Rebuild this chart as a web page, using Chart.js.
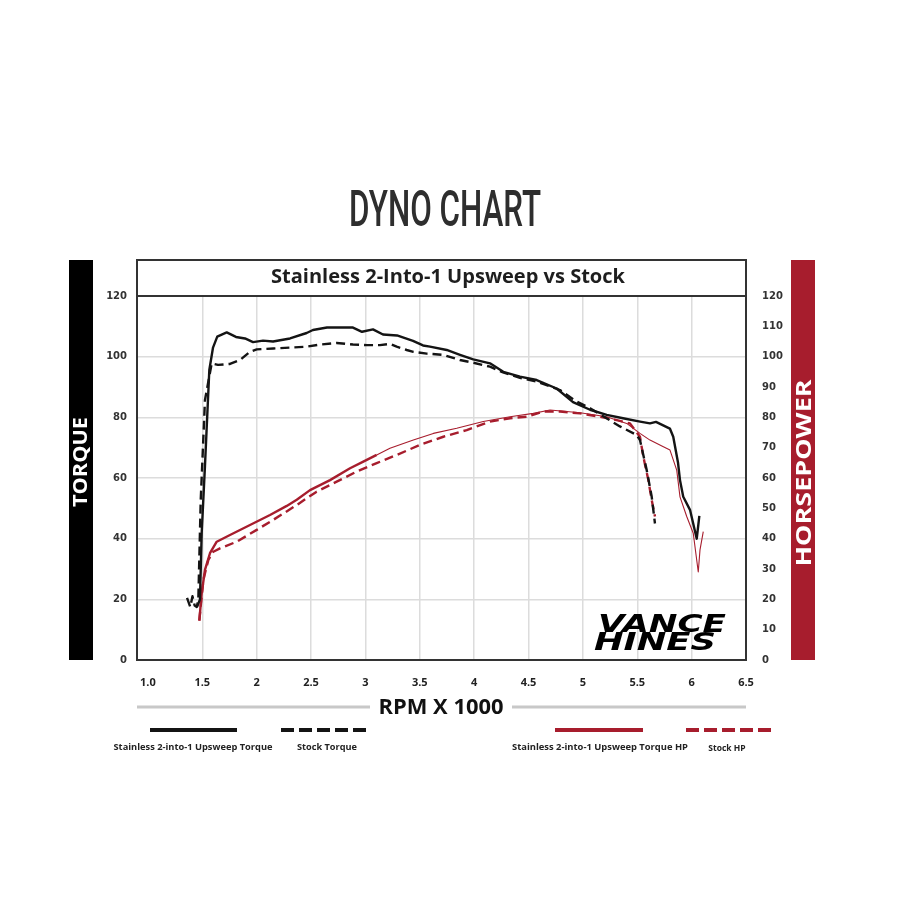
<!DOCTYPE html>
<html>
<head>
<meta charset="utf-8">
<title>Dyno Chart</title>
<script src="https://cdn.jsdelivr.net/npm/chart.js@4.4.1/dist/chart.umd.min.js"></script>
<style>
    html, body { margin: 0; padding: 0; background: #fff; }
    #wrap { position: relative; width: 900px; height: 900px; }
</style>
</head>
<body>
<div id="wrap"><canvas id="dynoChart" width="900" height="900"></canvas></div>
<script>
// rpm x 1000 ticks
const xTicks = [1.0, 1.5, 2, 2.5, 3, 3.5, 4, 4.5, 5, 5.5, 6, 6.5];
const xTickLabels = ['1.0', '1.5', '2', '2.5', '3', '3.5', '4', '4.5', '5', '5.5', '6', '6.5'];

// Stainless 2-into-1 torque
const upTqRpm = [1.452, 1.479, 1.495, 1.525, 1.565, 1.599, 1.638, 1.725, 1.81, 1.893, 1.967, 2.059, 2.151, 2.307, 2.46, 2.518,
    2.647, 2.886, 2.969, 3.07, 3.162, 3.291, 3.438, 3.53, 3.594, 3.748, 3.87, 3.992, 4.146, 4.268, 4.422, 4.575, 4.759,
    4.909, 5.066, 5.219, 5.369, 5.526, 5.617, 5.672, 5.8, 5.831, 5.875, 5.893, 5.923, 5.985, 6.047, 6.071];
const upTq = [17.5, 20, 42, 64, 95.6, 103, 106.6, 108, 106.5, 106, 104.8, 105.3, 105, 106, 107.8, 108.8,
    109.6, 109.6, 108.2, 109, 107.3, 107, 105.2, 103.7, 103.3, 102.2, 100.6, 99.1, 97.8, 95, 93.4, 92.3, 89.5,
    85, 82.5, 80.8, 79.7, 78.6, 78, 78.5, 76.3, 73.6, 65, 59.3, 53.8, 49.5, 40, 47.5];

// Stock torque
const stockTqRpm = [1.36, 1.39, 1.41, 1.43, 1.45, 1.464, 1.486, 1.525, 1.587, 1.645, 1.755, 1.847, 1.939, 2.001, 2.153,
    2.307, 2.46, 2.583, 2.736, 2.886, 3.015, 3.134, 3.226, 3.288, 3.38, 3.441, 3.564, 3.717, 3.87, 3.992, 4.146, 4.266,
    4.422, 4.575, 4.79, 4.928, 5.066, 5.203, 5.341, 5.495, 5.525, 5.587, 5.633, 5.663];
const stockTq = [20.5, 17.5, 21, 18, 17.5, 20, 52.7, 85.7, 97.8, 97.3, 97.6, 98.9, 101.6, 102.4, 102.7,
    103, 103.3, 104, 104.5, 104, 103.8, 103.8, 104.2, 103.3, 102.2, 101.6, 101, 100.6, 98.9, 98, 96.7, 94.8,
    93, 91.8, 89, 85.5, 83, 80, 77, 74.2, 72.5, 62.6, 53.8, 45];

// Stainless 2-into-1 HP
const upHpRpm = [1.473, 1.495, 1.525, 1.571, 1.633, 1.755, 1.939, 2.123, 2.277, 2.369, 2.491, 2.675, 2.859, 2.981, 3.104,
    3.226, 3.441, 3.625, 3.84, 4.084, 4.33, 4.544, 4.698, 4.974, 5.219, 5.403, 5.525, 5.617, 5.74, 5.801, 5.863,
    5.893, 5.955, 6.015, 6.061, 6.077, 6.107];
const upHp = [13, 22, 29.7, 35.2, 39, 41.2, 44.5, 47.8, 50.8, 52.8, 56, 59.3, 63.2, 65.4, 67.6,
    69.8, 72.5, 74.7, 76.4, 78.6, 80.2, 81.3, 82.4, 81.5, 80.2, 78, 74.7, 72.5, 70.3, 69.2, 62.6,
    53.8, 47.3, 41.8, 29, 36.3, 42.3];

// Stock HP
const stockHpRpm = [1.473, 1.51, 1.556, 1.602, 1.663, 1.817, 2.001, 2.153, 2.369, 2.552, 2.736, 2.92, 3.104, 3.288,
    3.502, 3.717, 3.932, 4.146, 4.33, 4.484, 4.636, 4.79, 4.974, 5.158, 5.311, 5.433, 5.525, 5.556, 5.602, 5.633, 5.663];
const stockHp = [13, 26.4, 33, 35.7, 36.8, 39, 42.9, 46.2, 51.1, 55.5, 58.8, 62.1, 64.9, 67.6,
    70.9, 73.6, 75.8, 78.6, 79.7, 80.2, 81.9, 81.9, 81.3, 80.2, 79.1, 78, 73.6, 67, 59.3, 52.7, 47.3];

const seriesNames = ['Stainless 2-into-1 Upsweep Torque', 'Stock Torque', 'Stainless 2-into-1 Upsweep Torque HP', 'Stock HP'];

const BLACK = '#141414';
const RED = '#a71d2d';
const GRID = '#dcdcdc';

function toPoints(xs, ys) {
    return xs.map((x, i) => ({ x: x, y: ys[i] }));
}

// draw text centred on (x, y), stretched to a given width (or natural width if none)
function fitText(ctx, text, x, y, w, font, color, rot) {
    ctx.save();
    ctx.font = font;
    ctx.fillStyle = color;
    ctx.textAlign = 'center';
    ctx.textBaseline = 'alphabetic';
    const m = ctx.measureText(text);
    const off = (m.actualBoundingBoxAscent - m.actualBoundingBoxDescent) / 2;
    ctx.translate(x, y);
    if (rot) ctx.rotate(rot);
    if (w) ctx.scale(w / m.width, 1);
    ctx.fillText(text, 0, off);
    ctx.restore();
}

const decorations = {
    id: 'decorations',
    beforeDraw(chart) {
        const ctx = chart.ctx;
        ctx.save();
        ctx.fillStyle = '#fff';
        ctx.fillRect(0, 0, chart.width, chart.height);

        fitText(ctx, 'DYNO CHART', 445, 208, 192, '500 50px Roboto', '#2e2e2e');

        ctx.fillStyle = '#000';
        ctx.fillRect(69, 260, 24, 400);
        ctx.fillStyle = RED;
        ctx.fillRect(791, 260, 24, 400);
        fitText(ctx, 'TORQUE', 81, 462, 90, 'bold 20px "Open Sans"', '#fff', -Math.PI / 2);
        fitText(ctx, 'HORSEPOWER', 803, 473, 187, 'bold 21px "Open Sans"', '#fff', -Math.PI / 2);
        ctx.restore();
    },
    afterDraw(chart) {
        const ctx = chart.ctx;
        const a = chart.chartArea;
        ctx.save();
        // plot frame + title row
        ctx.strokeStyle = '#333';
        ctx.lineWidth = 2;
        ctx.strokeRect(a.left, 260, a.right - a.left, a.bottom - 260);
        ctx.beginPath();
        ctx.moveTo(a.left, a.top);
        ctx.lineTo(a.right, a.top);
        ctx.stroke();
        fitText(ctx, 'Stainless 2-Into-1 Upsweep vs Stock', 448, 278, 354, 'bold 19px "Open Sans"', '#1e1e1e');

        // logo
        fitText(ctx, 'VANCE', 662, 623, 128, 'italic 900 24px "DejaVu Sans"', '#000');
        fitText(ctx, 'HINES', 655, 641, 122, 'italic 900 24px "DejaVu Sans"', '#000');

        // axis title with rules
        ctx.strokeStyle = '#c8c8c8';
        ctx.lineWidth = 3;
        ctx.beginPath();
        ctx.moveTo(a.left, 707); ctx.lineTo(370, 707);
        ctx.moveTo(512, 707); ctx.lineTo(a.right, 707);
        ctx.stroke();
        fitText(ctx, 'RPM X 1000', 441, 706, 125, 'bold 21px "Open Sans"', '#111');

        // legend
        const ds = chart.data.datasets;
        const legend = [
            { x0: 150, x1: 237, cx: 193, w: 159 },
            { x0: 281, x1: 368, cx: 327, w: 60 },
            { x0: 555, x1: 643, cx: 600, w: 176 },
            { x0: 686, x1: 775, cx: 727, w: 0 }
        ];
        legend.forEach((l, i) => {
            ctx.strokeStyle = ds[i].borderColor;
            ctx.lineWidth = 4;
            ctx.setLineDash(ds[i].borderDash && ds[i].borderDash.length ? [13, 5] : []);
            ctx.beginPath();
            ctx.moveTo(l.x0, 730);
            ctx.lineTo(l.x1, 730);
            ctx.stroke();
            ctx.setLineDash([]);
            fitText(ctx, ds[i].label, l.cx, 747, l.w, 'bold 8.5px "Open Sans"', '#222');
        });
        ctx.restore();
    }
};

const ctx = document.getElementById('dynoChart').getContext('2d');
new Chart(ctx, {
    type: 'line',
    data: {
        datasets: [
            {
                label: seriesNames[0],
                data: toPoints(upTqRpm, upTq),
                borderColor: BLACK,
                borderWidth: 2.4,
                yAxisID: 'y'
            },
            {
                label: seriesNames[1],
                data: toPoints(stockTqRpm, stockTq),
                borderColor: BLACK,
                borderWidth: 2.4,
                borderDash: [9, 5],
                yAxisID: 'y'
            },
            {
                label: seriesNames[2],
                data: toPoints(upHpRpm, upHp),
                borderColor: RED,
                borderWidth: 2.4,
                segment: {
                    borderWidth: c => (c.p0.parsed.x >= 3.1 ? 1.1 : 2.4)
                },
                yAxisID: 'y1'
            },
            {
                label: seriesNames[3],
                data: toPoints(stockHpRpm, stockHp),
                borderColor: RED,
                borderWidth: 2.4,
                borderDash: [9, 5],
                yAxisID: 'y1'
            }
        ]
    },
    options: {
        responsive: false,
        animation: false,
        events: [],
        elements: {
            point: { radius: 0 },
            line: { tension: 0, borderJoinStyle: 'round' }
        },
        layout: {
            padding: { left: 97, right: 104, top: 296, bottom: 200 }
        },
        plugins: {
            legend: { display: false },
            tooltip: { enabled: false }
        },
        scales: {
            x: {
                type: 'linear',
                min: 0.9,
                max: 6.5,
                afterBuildTicks: s => { s.ticks = xTicks.map(v => ({ value: v })); },
                afterFit: s => { s.height = 40; },
                ticks: {
                    autoSkip: false,
                    maxRotation: 0,
                    padding: 16,
                    color: '#222',
                    font: { family: 'Open Sans', weight: 'bold', size: 11 },
                    callback: v => xTickLabels[xTicks.indexOf(v)]
                },
                grid: {
                    drawTicks: false,
                    lineWidth: 1.5,
                    color: c => (c.tick && (c.tick.value === 1 || c.tick.value === 6.5)) ? 'rgba(0,0,0,0)' : GRID
                },
                border: { display: false }
            },
            y: {
                position: 'left',
                min: 0,
                max: 120,
                afterFit: s => { s.width = 40; },
                ticks: {
                    stepSize: 20,
                    padding: 10,
                    color: '#333',
                    font: { family: 'DejaVu Sans', weight: 'bold', size: 10 }
                },
                grid: {
                    drawTicks: false,
                    lineWidth: 1.5,
                    color: c => (c.tick && (c.tick.value === 0 || c.tick.value === 120)) ? 'rgba(0,0,0,0)' : GRID
                },
                border: { display: false }
            },
            y1: {
                position: 'right',
                min: 0,
                max: 120,
                afterFit: s => { s.width = 50; },
                ticks: {
                    stepSize: 10,
                    padding: 16,
                    color: '#333',
                    font: { family: 'DejaVu Sans', weight: 'bold', size: 10 }
                },
                grid: { display: false, drawTicks: false },
                border: { display: false }
            }
        }
    },
    plugins: [decorations]
});
</script>
</body>
</html>
